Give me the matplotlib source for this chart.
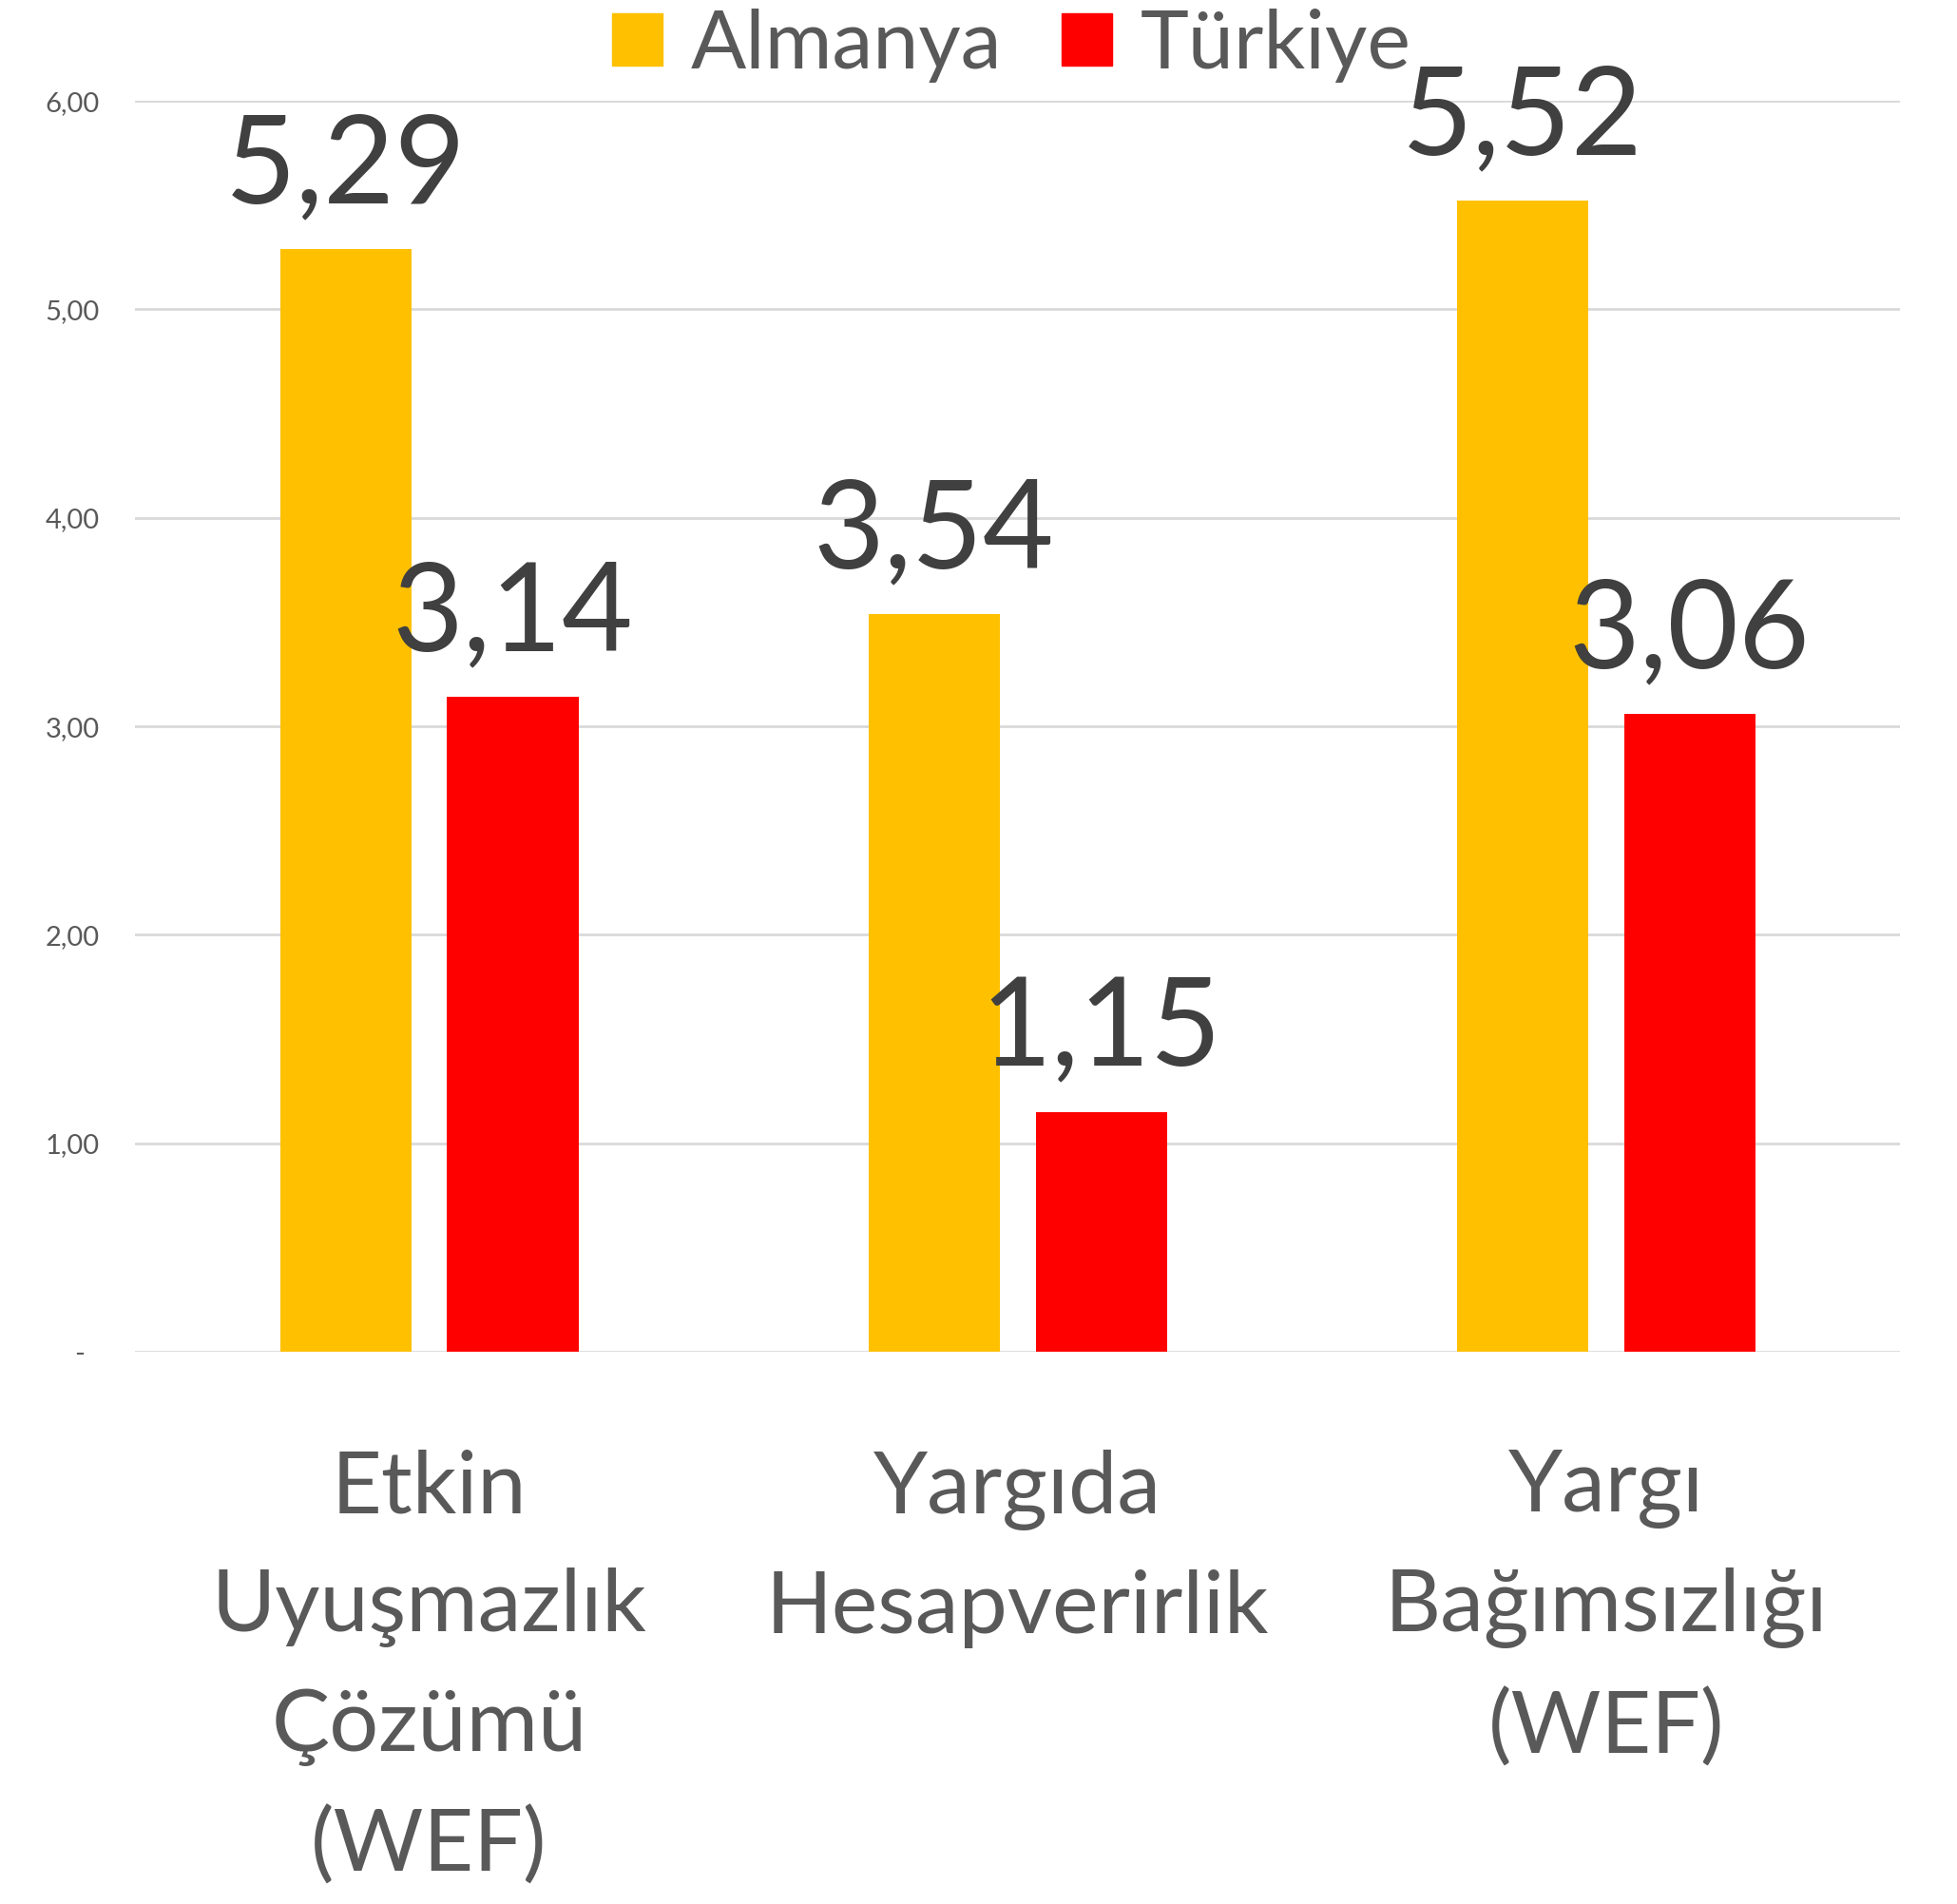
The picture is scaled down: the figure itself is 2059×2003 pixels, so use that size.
import numpy as np
import matplotlib.pyplot as plt
from matplotlib.patches import Patch

categories = ["Etkin\nUyuşmazlık\nÇözümü\n(WEF)", "Yargıda\nHesapverirlik", "Yargı\nBağımsızlığı\n(WEF)"]
almanya = [5.29, 3.54, 5.52]
turkiye = [3.14, 1.15, 3.06]
yticks = [0, 1, 2, 3, 4, 5, 6]
ytick_labels = ["-  ", "1,00", "2,00", "3,00", "4,00", "5,00", "6,00"]

plt.rcParams['font.family'] = ['Lato', 'DejaVu Sans']

fig = plt.figure(figsize=(20.59, 20.03), dpi=100)
ax = fig.add_axes([0.069, 0.290, 0.902, 0.657])

x = np.arange(len(categories))
w = 0.223
off = 0.142
b1 = ax.bar(x - off, almanya, w, color='#FFC000', zorder=3)
b2 = ax.bar(x + off, turkiye, w, color='#FF0000', zorder=3)

for bars, vals in ((b1, almanya), (b2, turkiye)):
    for rect, v in zip(bars, vals):
        ax.annotate(f"{v:.2f}".replace(".", ","),
                    (rect.get_x() + rect.get_width() / 2, v),
                    xytext=(0, 35), textcoords='offset points',
                    ha='center', va='baseline', fontsize=93,
                    color='#404040', clip_on=False)

ax.set_xlim(-0.5, 2.5)
ax.set_ylim(0, 6)
ax.set_yticks(yticks)
ax.set_yticklabels(ytick_labels, fontsize=21, color='#595959')
ax.set_xticks(x)
ax.set_xticklabels(categories, fontsize=66, color='#595959', linespacing=1.62)
ax.tick_params(axis='x', length=0, pad=74)
ax.tick_params(axis='y', length=0, pad=27)
ax.grid(axis='y', color='#d9d9d9', linewidth=2, zorder=0)
for s in ax.spines.values():
    s.set_visible(False)

handles = [Patch(color='#FFC000', label='Almanya'), Patch(color='#FF0000', label='Türkiye')]
leg = fig.legend(handles=handles, loc='center', bbox_to_anchor=(0.517, 0.976),
                 ncol=2, frameon=False, fontsize=62, handlelength=0.61, handleheight=0.61,
                 handletextpad=0.35, columnspacing=0.73, borderaxespad=0)
for t in leg.get_texts():
    t.set_color('#595959')

fig.savefig("out.png", dpi=100)
